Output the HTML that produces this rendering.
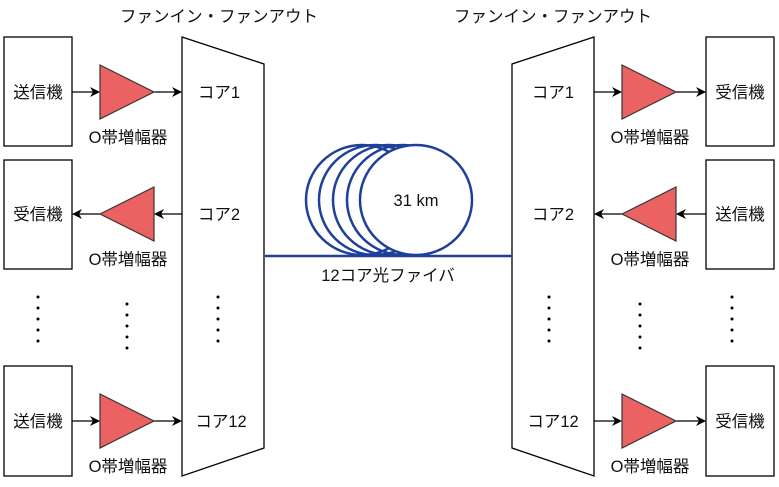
<!DOCTYPE html>
<html><head><meta charset="utf-8"><style>
html,body{margin:0;padding:0;background:#fff;}
svg{display:block;}
text{font-family:"Liberation Sans","Noto Sans CJK JP",sans-serif;font-size:16.5px;fill:#111;}
</style></head><body>
<svg width="779" height="487" viewBox="0 0 779 487" xmlns="http://www.w3.org/2000/svg">
<defs>
<marker id="ar" markerWidth="10" markerHeight="10" refX="9" refY="5" orient="auto" markerUnits="userSpaceOnUse">
<path d="M0,0 L10,5 L0,10 L3,5 Z" fill="#000"/></marker>
</defs>
<g stroke="#000" stroke-width="1.3" fill="#fff">
<rect x="4" y="37" width="68" height="109"/>
<rect x="4" y="160" width="68" height="109"/>
<rect x="4" y="366" width="68" height="110"/>
<rect x="706" y="37" width="68" height="109"/>
<rect x="706" y="160" width="68" height="109"/>
<rect x="706" y="366" width="68" height="110"/>
<polygon points="182,37 264,64 264,448 182,476"/>
<polygon points="594,37 512,64 512,448 594,476"/>
</g>
<g stroke="#000" stroke-width="1.3" fill="none" marker-end="url(#ar)">
<line x1="72" y1="92" x2="99" y2="92"/>
<line x1="154" y1="92" x2="181" y2="92"/>
<line x1="182" y1="214" x2="155" y2="214"/>
<line x1="100" y1="214" x2="73" y2="214"/>
<line x1="72" y1="421" x2="99" y2="421"/>
<line x1="154" y1="421" x2="181" y2="421"/>
<line x1="594" y1="92" x2="621" y2="92"/>
<line x1="676" y1="92" x2="705" y2="92"/>
<line x1="706" y1="214" x2="677" y2="214"/>
<line x1="622" y1="214" x2="595" y2="214"/>
<line x1="594" y1="421" x2="621" y2="421"/>
<line x1="676" y1="421" x2="705" y2="421"/>
</g>
<g fill="#ea6262" stroke="#333" stroke-width="1.2">
<polygon points="100,65 154,92 100,119"/>
<polygon points="154,187 100,214 154,241"/>
<polygon points="100,394 154,421 100,448"/>
<polygon points="622,65 676,92 622,119"/>
<polygon points="676,187 622,214 676,241"/>
<polygon points="622,394 676,421 622,448"/>
</g>
<g fill="#000">
<circle cx="38" cy="297" r="1.5"/><circle cx="38" cy="308" r="1.5"/><circle cx="38" cy="319" r="1.5"/><circle cx="38" cy="330" r="1.5"/><circle cx="38" cy="341" r="1.5"/>
<circle cx="127" cy="304" r="1.5"/><circle cx="127" cy="315" r="1.5"/><circle cx="127" cy="326" r="1.5"/><circle cx="127" cy="337" r="1.5"/><circle cx="127" cy="348" r="1.5"/>
<circle cx="218" cy="297" r="1.5"/><circle cx="218" cy="308" r="1.5"/><circle cx="218" cy="319" r="1.5"/><circle cx="218" cy="330" r="1.5"/><circle cx="218" cy="341" r="1.5"/>
<circle cx="549" cy="297" r="1.5"/><circle cx="549" cy="308" r="1.5"/><circle cx="549" cy="319" r="1.5"/><circle cx="549" cy="330" r="1.5"/><circle cx="549" cy="341" r="1.5"/>
<circle cx="640" cy="304" r="1.5"/><circle cx="640" cy="315" r="1.5"/><circle cx="640" cy="326" r="1.5"/><circle cx="640" cy="337" r="1.5"/><circle cx="640" cy="348" r="1.5"/>
<circle cx="732" cy="297" r="1.5"/><circle cx="732" cy="308" r="1.5"/><circle cx="732" cy="319" r="1.5"/><circle cx="732" cy="330" r="1.5"/><circle cx="732" cy="341" r="1.5"/>
</g>
<g fill="none" stroke="#1f3f9c" stroke-width="2.5">
<ellipse cx="362" cy="200" rx="56" ry="55"/>
<ellipse cx="375" cy="200" rx="56" ry="55"/>
<ellipse cx="389" cy="200" rx="56" ry="55"/>
<ellipse cx="403" cy="200" rx="56" ry="55"/>
<ellipse cx="416" cy="200" rx="56" ry="55" fill="#fff"/>
<line x1="265" y1="256" x2="512" y2="256"/>
</g>
<text x="416" y="206" text-anchor="middle">31 km</text>
<text x="388" y="281" text-anchor="middle">12コア光ファイバ</text>
<text x="219" y="22" text-anchor="middle">ファンイン・ファンアウト</text>
<text x="553" y="22" text-anchor="middle">ファンイン・ファンアウト</text>
<g text-anchor="middle">
<text x="38" y="98">送信機</text><text x="38" y="220">受信機</text><text x="38" y="427">送信機</text>
<text x="740" y="98">受信機</text><text x="740" y="220">送信機</text><text x="740" y="427">受信機</text>
<text x="128" y="143">O帯増幅器</text><text x="128" y="265">O帯増幅器</text><text x="128" y="472">O帯増幅器</text>
<text x="650" y="143">O帯増幅器</text><text x="650" y="265">O帯増幅器</text><text x="650" y="472">O帯増幅器</text>
<text x="219" y="98">コア1</text><text x="219" y="220">コア2</text><text x="221" y="427">コア12</text>
<text x="553" y="98">コア1</text><text x="553" y="220">コア2</text><text x="553" y="427">コア12</text>
</g>
</svg>
</body></html>
